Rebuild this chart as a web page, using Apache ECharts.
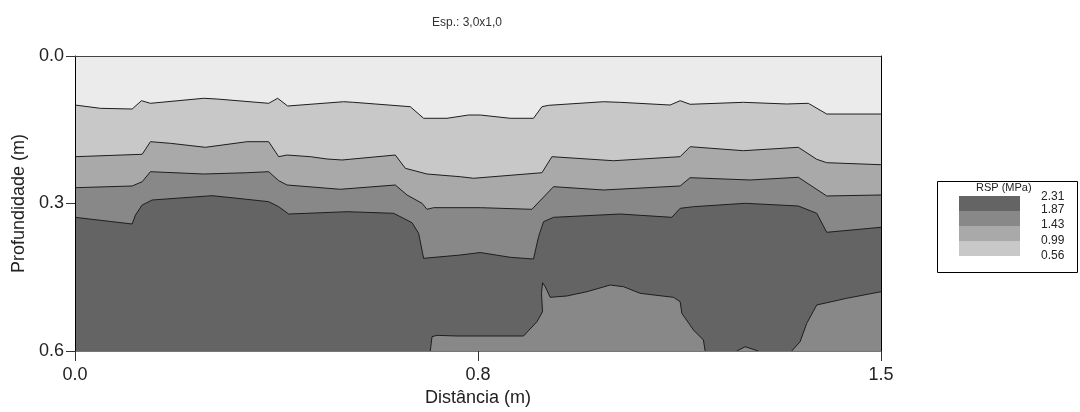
<!DOCTYPE html>
<html>
<head>
<meta charset="utf-8">
<script src="https://cdn.jsdelivr.net/npm/echarts@6/dist/echarts.min.js"></script>
<style>
html,body{margin:0;padding:0;background:#fff;}
#chart{width:1080px;height:412px;}
</style>
</head>
<body>
<div id="chart"></div>
<script>
// ---- data (distance m, depth m) ----
const titleText = 'Esp.: 3,0x1,0';
const xName = 'Distância (m)';
const yName = 'Profundidade (m)';
const xTickLabels = ['0.0', '0.8', '1.5'];
const yTickLabels = ['0.0', '0.3', '0.6'];
const legendTitle = 'RSP (MPa)';
const legendLabels = ['2.31', '1.87', '1.43', '0.99', '0.56'];
const legendColors = ['#646464', '#888888', '#a9a9a9', '#c8c8c8'];
const topZoneColor = '#ebebeb';

// contour boundaries (upper edge of each zone)
const contour056 = [[0,0.0997],[0.0474,0.1064],[0.1064,0.1078],[0.1237,0.0909],[0.1404,0.0962],[0.2396,0.0860],[0.2645,0.0875],[0.3605,0.0962],[0.3772,0.0860],[0.3958,0.1017],[0.5000,0.0930],[0.5186,0.0942],[0.6240,0.1031],[0.6488,0.1267],[0.6923,0.1267],[0.7325,0.1200],[0.7542,0.1200],[0.8100,0.1267],[0.8533,0.1267],[0.8690,0.1031],[0.8813,0.1003],[0.9835,0.0930],[1.0146,0.0942],[1.1076,0.0997],[1.1262,0.0909],[1.1448,0.0982],[1.2439,0.0942],[1.3246,0.0976],[1.3648,0.0962],[1.3990,0.1180],[1.5,0.1180]];
const contour099 = [[0,0.2048],[0.1250,0.1999],[0.1404,0.1743],[0.1776,0.1776],[0.2427,0.1857],[0.3203,0.1743],[0.3605,0.1743],[0.3791,0.2048],[0.3947,0.2014],[0.4380,0.2048],[0.4691,0.2095],[0.4970,0.2115],[0.5961,0.2014],[0.6147,0.2284],[0.6551,0.2400],[0.7170,0.2455],[0.7418,0.2487],[0.8690,0.2374],[0.8876,0.2048],[1.0022,0.2130],[1.1262,0.2048],[1.1448,0.1845],[1.2439,0.1926],[1.3462,0.1857],[1.3804,0.2101],[1.3990,0.2170],[1.5,0.2211]];
const contour143 = [[0,0.2679],[0.1064,0.2644],[0.1250,0.2557],[0.1404,0.2353],[0.2396,0.2400],[0.3203,0.2374],[0.3605,0.2353],[0.3791,0.2536],[0.3947,0.2624],[0.4938,0.2711],[0.5961,0.2624],[0.6179,0.2827],[0.6458,0.2996],[0.6551,0.3118],[0.6674,0.3085],[0.7542,0.3085],[0.8504,0.3118],[0.8597,0.3010],[0.8906,0.2658],[0.9835,0.2725],[1.1262,0.2644],[1.1448,0.2475],[1.2564,0.2522],[1.3462,0.2467],[1.3990,0.2847],[1.5,0.2827]];
const contour187 = [[0,0.3281],[0.1064,0.3417],[0.1125,0.3234],[0.1250,0.3031],[0.1436,0.2929],[0.2552,0.2841],[0.3017,0.2894],[0.3605,0.2963],[0.3791,0.3065],[0.3977,0.3214],[0.5063,0.3167],[0.5930,0.3199],[0.6272,0.3390],[0.6395,0.3606],[0.6488,0.4115],[0.7170,0.4048],[0.7542,0.3997],[0.8100,0.4094],[0.8533,0.4129],[0.8627,0.3675],[0.8720,0.3370],[0.8906,0.3281],[1.0146,0.3214],[1.1108,0.3281],[1.1262,0.3098],[1.1510,0.3065],[1.2471,0.2996],[1.3462,0.3051],[1.3804,0.3199],[1.3990,0.3586],[1.5,0.3484]];
// lower pockets of the 1.43-1.87 zone rising from the bottom
const lowerMiddle = [[0.6612,0.6],[0.6644,0.5709],[0.6737,0.5681],[0.7109,0.5695],[0.8347,0.5695],[0.8597,0.5404],[0.8701,0.5201],[0.8682,0.4827],[0.8701,0.4611],[0.8751,0.4692],[0.8844,0.4908],[0.9155,0.4881],[0.9526,0.4794],[0.9960,0.4658],[1.0207,0.4692],[1.0518,0.4827],[1.1137,0.4908],[1.1262,0.4997],[1.1294,0.5234],[1.1510,0.5573],[1.1695,0.5776],[1.1727,0.6]];
const lowerBump = [[1.2316,0.6],[1.2471,0.5913],[1.2718,0.6]];
const lowerRight = [[1.3339,0.6],[1.3494,0.5811],[1.3618,0.5437],[1.3804,0.5064],[1.4362,0.4928],[1.5,0.4794]];

const FONT = "'Liberation Sans', Arial, sans-serif";
const lineCol = '#1e1e1e';

function zone(data, color) {
  return {
    type: 'line', data: data, showSymbol: false, symbol: 'none',
    smooth: false, animation: false, silent: true,
    lineStyle: { color: lineCol, width: 1 },
    areaStyle: { color: color, opacity: 1, origin: 'end' },
    xAxisIndex: 0, yAxisIndex: 0
  };
}

const chart = echarts.init(document.getElementById('chart'), null, { renderer: 'canvas' });

const legendGraphics = [
  { type: 'rect', left: 937, top: 181, shape: { width: 140, height: 91 },
    style: { fill: '#fff', stroke: '#000', lineWidth: 1 }, z: 10 },
  { type: 'text', left: 976, top: 182,
    style: { text: legendTitle, font: '11px ' + FONT, fill: '#222' }, z: 11 }
];
legendColors.forEach((c, i) => {
  legendGraphics.push({ type: 'rect', left: 959, top: 196 + i * 15,
    shape: { width: 61, height: 15 }, style: { fill: c }, z: 11 });
});
const labelTops = [191, 204, 219, 235, 250];
legendLabels.forEach((t, i) => {
  legendGraphics.push({ type: 'text', left: 1041, top: labelTops[i],
    style: { text: t, font: '12px ' + FONT, fill: '#222' }, z: 11 });
});

const option = {
  animation: false,
  backgroundColor: '#fff',
  title: {
    text: titleText, left: 462, top: 12, textAlign: 'center',
    textStyle: { fontFamily: FONT, fontSize: 12, fontWeight: 'normal', color: '#333' }
  },
  grid: { left: 75, right: 199, top: 56, bottom: 61, show: true,
    backgroundColor: topZoneColor, borderWidth: 0 },
  xAxis: [{
    type: 'value', min: 0, max: 1.5, interval: 0.75, position: 'bottom',
    name: xName, nameLocation: 'middle', nameGap: 36,
    nameTextStyle: { fontFamily: FONT, fontSize: 18, color: '#222' },
    axisLine: { show: true, onZero: false, lineStyle: { color: '#777', width: 1 } },
    axisTick: { show: true, length: 10, lineStyle: { color: '#333' } },
    axisLabel: { margin: 15, fontFamily: FONT, fontSize: 18, color: '#222',
      formatter: (v, i) => xTickLabels[i] },
    splitLine: { show: false }, z: 10
  }, {
    type: 'value', min: 0, max: 1.5, position: 'top',
    axisLine: { show: true, onZero: false, lineStyle: { color: '#444', width: 1 } },
    axisTick: { show: false }, axisLabel: { show: false }, splitLine: { show: false }, z: 10
  }],
  yAxis: [{
    type: 'value', min: 0, max: 0.6, interval: 0.3, inverse: true, position: 'left',
    name: yName, nameLocation: 'middle', nameGap: 46,
    nameTextStyle: { fontFamily: FONT, fontSize: 18, color: '#222' },
    axisLine: { show: true, onZero: false, lineStyle: { color: '#000', width: 1 } },
    axisTick: { show: true, length: 9, lineStyle: { color: '#333' } },
    axisLabel: { margin: 11, fontFamily: FONT, fontSize: 18, color: '#222',
      formatter: (v, i) => yTickLabels[i] },
    splitLine: { show: false }, z: 10
  }, {
    type: 'value', min: 0, max: 0.6, inverse: true, position: 'right',
    axisLine: { show: true, onZero: false, lineStyle: { color: '#000', width: 1 } },
    axisTick: { show: false }, axisLabel: { show: false }, splitLine: { show: false }, z: 10
  }],
  series: [
    zone(contour056, '#c8c8c8'),
    zone(contour099, '#a9a9a9'),
    zone(contour143, '#888888'),
    zone(contour187, '#646464'),
    zone(lowerMiddle, '#888888'),
    zone(lowerBump, '#888888'),
    zone(lowerRight, '#888888')
  ],
  graphic: legendGraphics
};
chart.setOption(option);
</script>
</body>
</html>
